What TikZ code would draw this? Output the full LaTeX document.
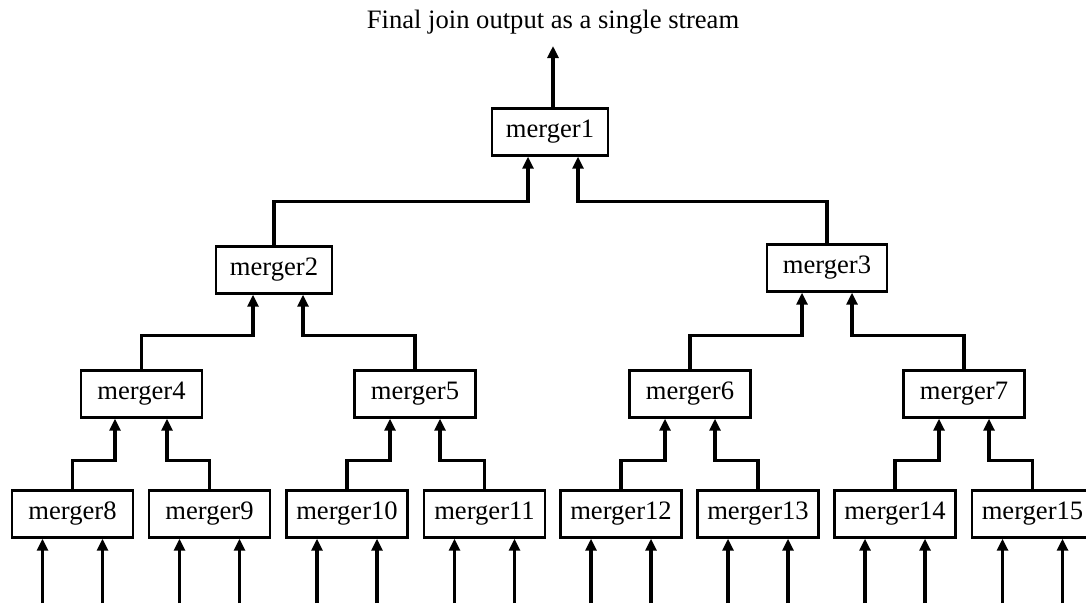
\documentclass[tikz,border=0pt]{standalone}
\usepackage{fontspec}
\setmainfont{Liberation Serif}
\usetikzlibrary{arrows.meta,calc}

\begin{document}
\begin{tikzpicture}[x=1pt,y=-1pt,
  merger/.style={draw,line width=2.4pt,minimum width=121pt,minimum height=47pt,
    inner sep=0pt,font=\fontsize{26.6}{30}\selectfont},
  flow/.style={line width=3.2pt,-{Triangle[length=12pt,width=11pt]}},
]
\useasboundingbox (0,0) rectangle (1086,603);

% title
\node[font=\fontsize{26.6}{30}\selectfont] (title) at (553,22) {Final join output as a single stream};

% merge tree
\node[merger,minimum width=116pt] (m1) at (550,132) {merger1};
\node[merger,minimum width=116pt] (m2) at (274,270) {merger2};
\node[merger,minimum width=120pt] (m3) at (827,268) {merger3};
\node[merger] (m4) at (141.5,394) {merger4};
\node[merger] (m5) at (415,394) {merger5};
\node[merger] (m6) at (690,394) {merger6};
\node[merger] (m7) at (964,394) {merger7};
\node[merger] (m8) at (72.5,514) {merger8};
\node[merger] (m9) at (209.5,514) {merger9};
\node[merger] (m10) at (347,514) {merger10};
\node[merger] (m11) at (484.5,514) {merger11};
\node[merger] (m12) at (621,514) {merger12};
\node[merger] (m13) at (758,514) {merger13};
\node[merger] (m14) at (895,514) {merger14};
\node[merger] (m15) at (1032.5,514) {merger15};

% output of the root
\coordinate (out) at (553,46);
\draw[flow] (m1.north -| out) -- (out);

% parent input pins, on the bottom edge of each parent
\foreach \p/\x/\d in {m1/553/25, m2/278/25, m3/827/25, m4/141/26, m5/415/25, m6/690/25, m7/964/25}{
  \coordinate (\p a) at (\x-\d,0 |- \p.south);
  \coordinate (\p b) at (\x+\d,0 |- \p.south);
}

% child-to-parent connectors
\foreach \c/\p/\h in {m2/m1a/44, m3/m1b/42,
                      m4/m2a/34, m5/m2b/34, m6/m3a/34, m7/m3b/34,
                      m8/m4a/29, m9/m4b/29, m10/m5a/29, m11/m5b/29,
                      m12/m6a/29, m13/m6b/29, m14/m7a/29, m15/m7b/29}{
  \draw[flow] (\c.north) -- ++(0,-\h) -| (\p);
}

% leaf inputs
\foreach \c in {m8,m9,m10,m11,m12,m13,m14,m15}{
  \coordinate (\c in1) at ($(\c.south)+(-30,0)$);
  \coordinate (\c in2) at ($(\c.south)+(30,0)$);
  \draw[flow] (\c in1 |- 0,603) -- (\c in1);
  \draw[flow] (\c in2 |- 0,603) -- (\c in2);
}
\end{tikzpicture}
\end{document}
